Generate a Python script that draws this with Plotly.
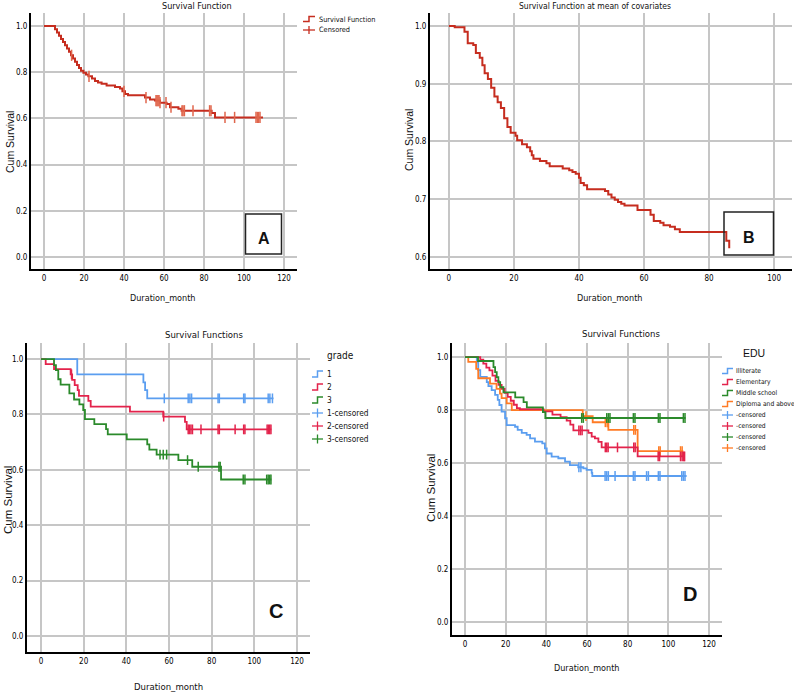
import numpy as np
import plotly.graph_objects as go

W, H = 794, 694
NARROW = "Liberation Sans Narrow, DejaVu Sans Condensed, Arial Narrow, sans-serif"
SANS = "Liberation Sans, Arial, sans-serif"

# ---------------- data ----------------
# Panel A: overall survival function
A_time = [0, 5.5, 6.5, 7.5, 8.5, 9.5, 10.5, 11.5, 12.5, 13.5, 14.5, 15.5, 16.5, 17.5, 18.5, 19.7,
          21, 22.2, 24, 25.5, 27, 28.8, 31.3, 35.5, 38, 39.2, 40.5, 42, 50.5, 53, 55.5, 58, 61.3,
          63, 67.2, 68.8, 83.8, 85.5, 109.5]
A_surv = [1.0, 0.986, 0.972, 0.958, 0.944, 0.93, 0.916, 0.902, 0.888, 0.873, 0.859, 0.845, 0.831,
          0.818, 0.806, 0.797, 0.79, 0.782, 0.772, 0.762, 0.755, 0.75, 0.742, 0.736, 0.729, 0.717,
          0.705, 0.70, 0.69, 0.682, 0.677, 0.668, 0.662, 0.648, 0.642, 0.633, 0.623, 0.604, 0.604]
A_cens = [13.8, 22.5, 40, 51, 56, 56.5, 57, 57.5, 58, 61, 63.5, 69, 69.5, 70.2, 74.5, 82.8, 83.5,
          90.5, 95.3, 106, 106.7, 107.3, 108]

# Panel B: survival at mean of covariates
B_time = [0, 1.8, 4.8, 5.8, 7.5, 8.3, 9.5, 10.3, 11, 12, 13, 14, 15, 16, 17, 18, 19, 20.5, 21, 22.5,
          24, 25, 25.5, 26, 28, 30, 31, 35, 37, 38, 39, 40, 40.5, 41.5, 42.5, 48, 49, 50, 51, 52,
          53, 54, 58, 62, 63, 65, 66, 68, 69.5, 71, 85.3, 86.2]
B_surv = [1.0, 0.998, 0.99, 0.97, 0.967, 0.953, 0.945, 0.932, 0.918, 0.908, 0.893, 0.878, 0.868,
          0.858, 0.84, 0.825, 0.815, 0.81, 0.802, 0.795, 0.79, 0.783, 0.776, 0.77, 0.766, 0.762,
          0.757, 0.753, 0.75, 0.747, 0.744, 0.737, 0.728, 0.724, 0.717, 0.714, 0.708, 0.703, 0.699,
          0.695, 0.692, 0.689, 0.681, 0.673, 0.662, 0.659, 0.655, 0.652, 0.648, 0.643, 0.628, 0.615]

# Panel C: by grade
C1_time = [0, 17, 48, 48.8, 49.8, 109]
C1_surv = [1.0, 0.945, 0.916, 0.888, 0.858, 0.858]
C1_cens = [57.8, 69, 69.8, 70.6, 83, 83.6, 95, 95.6, 106.5, 107.3, 108.5]

C2_time = [0, 2.2, 6.1, 13.9, 14.6, 15.8, 17.2, 17.8, 22.2, 23.3, 41.7, 57.3, 67.5, 68.3, 108]
C2_surv = [1.0, 0.982, 0.964, 0.945, 0.925, 0.906, 0.888, 0.867, 0.849, 0.828, 0.81, 0.792,
           0.773, 0.746, 0.746]
C2_cens = [14.3, 57.5, 69, 69.6, 70.3, 71, 75, 83, 83.6, 91, 95, 95.6, 106, 106.6, 107.2, 107.8]

C3_time = [0, 6.1, 7, 8.1, 9.2, 13.3, 15.5, 18, 19.8, 20.6, 25, 30.5, 31.3, 40.2, 49.8, 50.8,
           54.2, 64.4, 70.9, 84.4, 108]
C3_surv = [1.0, 0.978, 0.96, 0.927, 0.908, 0.876, 0.854, 0.836, 0.816, 0.783, 0.765, 0.747,
           0.728, 0.71, 0.692, 0.673, 0.655, 0.635, 0.611, 0.565, 0.565]
C3_cens = [55.8, 57.3, 58.9, 68.7, 73.7, 83.4, 84.0, 94.8, 95.6, 105.8, 106.5, 107.2, 107.8]

# Panel D: by education
D1_time = [0, 5.8, 6.5, 7.5, 10.7, 11.5, 13.1, 14.8, 16.1, 16.9, 18, 19.7, 20.5, 24.6, 25.9, 27.9,
           30.3, 32, 34.4, 38, 39.3, 40.2, 42.6, 45.9, 49.2, 51.6, 55.7, 58.2, 59.8, 62.3, 62.6, 109]
D1_surv = [1.0, 0.98, 0.951, 0.925, 0.905, 0.89, 0.875, 0.857, 0.838, 0.819, 0.794, 0.769, 0.743,
           0.737, 0.725, 0.714, 0.706, 0.693, 0.681, 0.674, 0.655, 0.636, 0.624, 0.618, 0.605,
           0.592, 0.584, 0.58, 0.574, 0.563, 0.551, 0.551]
D1_cens = [56, 57, 68.9, 69.7, 70.5, 73.8, 82.8, 83.6, 89.3, 90.2, 95.1, 95.9, 106.6, 107.4, 108.2]

D2_time = [0, 7.5, 9, 10.5, 12, 13.5, 15, 16.5, 18, 19.5, 21, 22.5, 24, 25.5, 27, 38.6, 43, 47,
           50, 51.8, 53.3, 60.7, 62.3, 63.9, 65.6, 67.2, 84.9, 108]
D2_surv = [1.0, 0.99, 0.975, 0.96, 0.95, 0.93, 0.91, 0.895, 0.88, 0.865, 0.85, 0.835, 0.82, 0.807,
           0.803, 0.795, 0.783, 0.773, 0.76, 0.745, 0.723, 0.714, 0.70, 0.693, 0.68, 0.659, 0.625,
           0.625]
D2_cens = [56, 56.8, 57.6, 69, 69.7, 70.4, 75, 83, 83.7, 95, 95.7, 106, 106.8, 107.5, 108]

D3_time = [0, 6.4, 14, 14.8, 15.6, 16.4, 17.3, 18.9, 24.7, 28.8, 30.4, 38.3, 39.5, 108.5]
D3_surv = [1.0, 0.985, 0.962, 0.943, 0.924, 0.905, 0.886, 0.867, 0.848, 0.83, 0.81, 0.792, 0.77,
           0.77]
D3_cens = [57.4, 58.2, 69.7, 70.5, 71.3, 82.8, 83.6, 95.1, 95.9, 107.4, 108.2]

D4_time = [0, 1.6, 5.5, 6.5, 12.3, 15.5, 17.2, 18, 20.5, 23, 57.9, 62.8, 70.5, 84.9, 107.4]
D4_surv = [1.0, 0.982, 0.955, 0.92, 0.90, 0.88, 0.862, 0.845, 0.825, 0.80, 0.777, 0.754, 0.725,
           0.645, 0.645]
D4_cens = [59.5, 69, 69.9, 83, 83.8, 95.3, 96, 106, 106.8]

C_labels = ["1", "2", "3", "1-censored", "2-censored", "3-censored"]
D_labels = ["Illiterate", "Elementary", "Middle school", "Diploma and above",
            "-censored", "-censored", "-censored", "-censored"]

# ---------------- helpers ----------------
def at(times, surv, ts):
    times = np.asarray(times)
    idx = np.searchsorted(times, np.asarray(ts), side="right") - 1
    return [surv[i] for i in idx]

def px(x):
    return x / W

def py(y):
    return 1 - y / H

fig = go.Figure()

def add_curve(times, surv, cens, color, ccolor, xa, ya, width=1.8, msize=7):
    fig.add_trace(go.Scatter(x=times, y=surv, mode="lines", line=dict(color=color, width=width, shape="hv"),
                             xaxis=xa, yaxis=ya, showlegend=False, hoverinfo="skip"))
    if cens:
        fig.add_trace(go.Scatter(x=cens, y=at(times, surv, cens), mode="markers",
                                 marker=dict(symbol="line-ns", size=msize,
                                             line=dict(color=ccolor, width=1.5)),
                                 xaxis=xa, yaxis=ya, showlegend=False, hoverinfo="skip"))

RED_A = "#c62d1f"
add_curve(A_time, A_surv, A_cens, RED_A, "#e0664c", "x", "y", width=2, msize=8)
add_curve(B_time, B_surv, None, RED_A, RED_A, "x2", "y2", width=2)

BLUE, RED, GREEN, ORANGE = "#5b9ef0", "#e3234b", "#2b8a2b", "#ff7b24"
add_curve(C1_time, C1_surv, C1_cens, BLUE, BLUE, "x3", "y3")
add_curve(C2_time, C2_surv, C2_cens, RED, RED, "x3", "y3")
add_curve(C3_time, C3_surv, C3_cens, GREEN, GREEN, "x3", "y3")

add_curve(D1_time, D1_surv, D1_cens, BLUE, BLUE, "x4", "y4")
add_curve(D4_time, D4_surv, D4_cens, ORANGE, ORANGE, "x4", "y4")
add_curve(D2_time, D2_surv, D2_cens, RED, RED, "x4", "y4")
add_curve(D3_time, D3_surv, D3_cens, GREEN, GREEN, "x4", "y4")

TICKFONT = dict(family=NARROW, size=8, color="#000")
GRID = "#c6c6c6"

def xax(x0, x1, rng, anchor, dtick):
    return dict(domain=[px(x0), px(x1)], range=rng, anchor=anchor, dtick=dtick, tick0=0,
                showgrid=True, gridcolor=GRID, gridwidth=1.6, zeroline=False,
                showline=True, linecolor="black", linewidth=2, ticks="", tickfont=TICKFONT)

def yax(y0, y1, rng, anchor, dtick):
    return dict(domain=[py(y1), py(y0)], range=rng, anchor=anchor, dtick=dtick, tick0=0,
                tickformat=".1f", showgrid=True, gridcolor=GRID, gridwidth=1.6, zeroline=False,
                showline=True, linecolor="black", linewidth=2, ticks="", tickfont=TICKFONT)

fig.update_layout(
    width=W, height=H, autosize=False, margin=dict(l=0, r=0, t=0, b=0),
    paper_bgcolor="white", plot_bgcolor="white", showlegend=False,
    xaxis=xax(31, 297, [-6.5, 126.5], "y", 20),
    yaxis=yax(13, 269, [-0.052, 1.056], "x", 0.2),
    xaxis2=xax(430, 792, [-5.8, 105.5], "y2", 20),
    yaxis2=yax(13, 269, [0.579, 1.0225], "x2", 0.1),
    xaxis3=xax(27, 310, [-6.56, 126.1], "y3", 20),
    yaxis3=yax(343, 652, [-0.058, 1.058], "x3", 0.2),
    xaxis4=xax(452, 722, [-6.4, 126.4], "y4", 20),
    yaxis4=yax(343, 635, [-0.049, 1.053], "x4", 0.2),
)

ann = []
shapes = []

def text(x, y, s, size, family=NARROW, anchor="center", angle=0, bold=False, color="#111"):
    ann.append(dict(x=px(x), y=py(y), xref="paper", yref="paper", text=(f"<b>{s}</b>" if bold else s),
                    showarrow=False, xanchor=anchor, yanchor="middle", textangle=angle,
                    font=dict(family=family, size=size, color=color)))

# titles
text(197, 6, "Survival Function", 9)
text(595, 6, "Survival Function at mean of covariates", 8.5)
text(204, 334, "Survival Functions", 9.5)
text(621, 333, "Survival Functions", 9.5)
# axis titles
text(10, 142, "Cum Survival", 10.5, SANS, angle=-90)
text(409, 140, "Cum Survival", 10.5, SANS, angle=-90)
text(8, 500, "Cum Survival", 11.5, SANS, angle=-90)
text(431, 488, "Cum Survival", 11.5, SANS, angle=-90)
text(163, 298, "Duration_month", 9)
text(610, 298, "Duration_month", 9)
text(168, 686, "Duration_month", 9.5)
text(587, 668, "Duration_month", 9)

# panel letters
shapes.append(dict(type="rect", xref="paper", yref="paper", x0=px(245.5), x1=px(281.5), y0=py(254), y1=py(214),
                   line=dict(color="#222", width=1.5), fillcolor="rgba(0,0,0,0)"))
text(264, 238, "A", 16, SANS, bold=True)
shapes.append(dict(type="rect", xref="paper", yref="paper", x0=px(724), x1=px(773.5), y0=py(255), y1=py(212),
                   line=dict(color="#222", width=1.5), fillcolor="rgba(0,0,0,0)"))
text(749, 237, "B", 16, SANS, bold=True)
text(276, 611, "C", 20, SANS, bold=True)
text(690, 594, "D", 20, SANS, bold=True)

# legend icons
def step_icon(x0, x1, y, color, h=5):
    xm = (x0 + x1) / 2
    path = f"M {px(x0)},{py(y + h/2)} L {px(xm)},{py(y + h/2)} L {px(xm)},{py(y - h/2)} L {px(x1)},{py(y - h/2)}"
    shapes.append(dict(type="path", xref="paper", yref="paper", path=path, line=dict(color=color, width=1.5)))

def cross_icon(x0, x1, y, color, h=8):
    xm = (x0 + x1) / 2
    shapes.append(dict(type="line", xref="paper", yref="paper", x0=px(x0), x1=px(x1), y0=py(y), y1=py(y),
                       line=dict(color=color, width=1.3)))
    shapes.append(dict(type="line", xref="paper", yref="paper", x0=px(xm), x1=px(xm), y0=py(y - h/2), y1=py(y + h/2),
                       line=dict(color=color, width=1.3)))

# legend A
step_icon(303, 315, 19, RED_A)
text(317, 19, "Survival Function", 7.3, anchor="left")
cross_icon(303, 315, 30, RED_A)
text(317, 30, "Censored", 7.3, anchor="left")

# legend C
text(325, 355, "grade", 10, anchor="left")
c_cols = [BLUE, RED, GREEN]
c_y = [374, 387, 400, 413, 426, 439]
for i, lab in enumerate(C_labels):
    col = c_cols[i % 3]
    if i < 3:
        step_icon(312, 323, c_y[i], col, 6)
    else:
        cross_icon(312, 323, c_y[i], col, 9)
    text(325, c_y[i], lab, 8.3, anchor="left")

# legend D
text(754, 353, "EDU", 10.5, SANS)
d_cols = [BLUE, RED, GREEN, ORANGE]
d_y = [371, 382, 393, 404, 415, 426, 437, 448]
for i, lab in enumerate(D_labels):
    col = d_cols[i % 4]
    if i < 4:
        step_icon(722, 733, d_y[i], col, 5)
    else:
        cross_icon(722, 733, d_y[i], col, 8)
    text(734, d_y[i], lab, 6.7, anchor="left")

fig.update_layout(annotations=ann, shapes=shapes)
fig.write_html("out.html")
